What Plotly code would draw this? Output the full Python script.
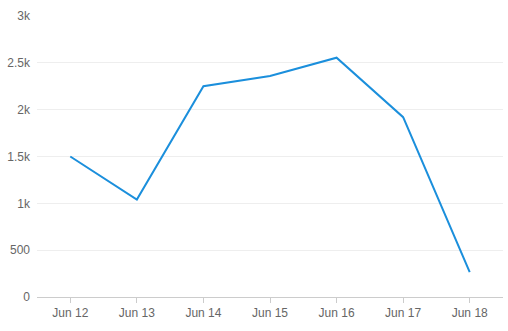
import plotly.graph_objects as go

categories = ["Jun 12", "Jun 13", "Jun 14", "Jun 15", "Jun 16", "Jun 17", "Jun 18"]
values = [1500, 1040, 2250, 2360, 2555, 1920, 265]
y_tickvals = [0, 500, 1000, 1500, 2000, 2500, 3000]
y_ticktext = ["0", "500", "1k", "1.5k", "2k", "2.5k", "3k"]

fig = go.Figure(go.Scatter(
    x=categories, y=values, mode="lines",
    line=dict(color="#1b8fdc", width=2),
    hoverinfo="x+y",
))

fig.update_layout(
    width=508, height=331,
    margin=dict(l=37, r=5, t=16, b=34),
    paper_bgcolor="white", plot_bgcolor="white",
    font=dict(family="Liberation Sans, Arial, sans-serif", size=12, color="#666666"),
    showlegend=False,
    xaxis=dict(
        type="category", range=[-0.5, 6.5],
        showgrid=False, showline=True, linecolor="#cccccc", linewidth=1,
        ticks="outside", ticklen=5, tickcolor="#cccccc",
        tickfont=dict(size=12, color="#666666"), fixedrange=True,
    ),
    yaxis=dict(
        range=[0, 3000], tickvals=y_tickvals, ticktext=y_ticktext,
        showgrid=True, gridcolor="#eeeeee", gridwidth=1,
        zeroline=False, showline=False, ticks="",
        ticklabelstandoff=6,
        tickfont=dict(size=12, color="#666666"), fixedrange=True,
    ),
)

fig.write_html("out.html")
